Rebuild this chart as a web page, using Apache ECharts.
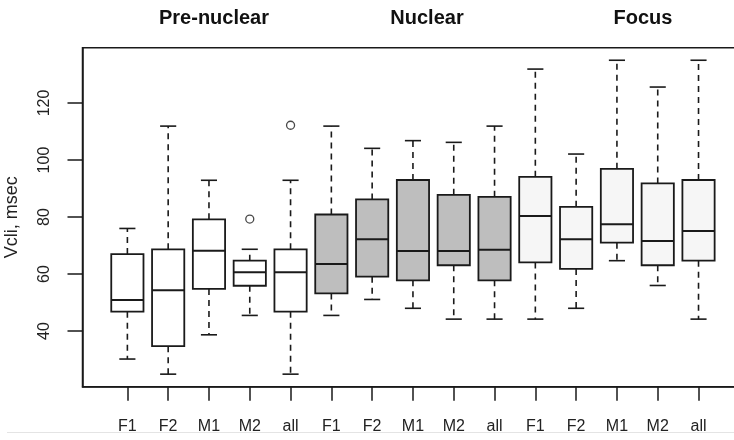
<!DOCTYPE html>
<html>
<head>
<meta charset="utf-8">
<script src="https://cdn.jsdelivr.net/npm/echarts@6/dist/echarts.min.js"></script>
<style>
  html, body { margin: 0; padding: 0; background: #fff; }
  #container { width: 734px; height: 440px; }
</style>
</head>
<body>
<div id="container"></div>
<script>
// data
var categories = ['F1', 'F2', 'M1', 'M2', 'all',
                  'F1', 'F2', 'M1', 'M2', 'all',
                  'F1', 'F2', 'M1', 'M2', 'all'];
var groupNames = ['Pre-nuclear', 'Nuclear', 'Focus'];
var lowWhisker = [30.2, 24.9, 38.7, 45.5, 24.9, 45.5, 51.1, 48.0, 44.2, 44.2, 44.2, 48.0, 64.7, 56.0, 44.2];
var lowerQuart = [46.8, 34.7, 54.8, 55.9, 46.8, 53.2, 59.1, 57.8, 63.1, 57.8, 64.1, 61.8, 71.0, 63.1, 64.7];
var medians    = [50.9, 54.3, 68.2, 60.6, 60.6, 63.5, 72.2, 68.1, 68.1, 68.5, 80.4, 72.2, 77.5, 71.6, 75.1];
var upperQuart = [67.0, 68.7, 79.2, 64.7, 68.7, 80.9, 86.2, 93.0, 87.8, 87.1, 94.1, 83.6, 96.9, 91.8, 93.0];
var highWhisker = [76.0, 111.9, 92.9, 68.7, 92.9, 111.9, 104.1, 106.8, 106.2, 111.9, 131.9, 102.1, 135.0, 125.6, 135.0];
var outliers = [[3, 79.3], [4, 112.2]];
var yTicks = [40, 60, 80, 100, 120];

var groupFill = ['#ffffff', '#bebebe', '#f6f6f6'];
// where the group headings sit (px)
var groupTitleX = [214, 427, 643];

var boxData = categories.map(function (c, i) {
    return [i, lowWhisker[i], lowerQuart[i], medians[i], upperQuart[i], highWhisker[i]];
});

function renderBox(params, api) {
    var x = api.value(0);
    var pMin = api.coord([x, api.value(1)]);
    var pQ1 = api.coord([x, api.value(2)]);
    var pMed = api.coord([x, api.value(3)]);
    var pQ3 = api.coord([x, api.value(4)]);
    var pMax = api.coord([x, api.value(5)]);
    var bw = api.size([1, 0])[0] * 0.79;
    var cap = bw / 2;
    var cx = pMed[0];
    var fill = groupFill[Math.floor(params.dataIndex / 5)];
    var stroke = '#1a1a1a';
    var dash = { stroke: stroke, lineWidth: 1.6, lineDash: [6, 5] };
    var solid = { stroke: stroke, lineWidth: 1.6 };
    return {
        type: 'group',
        children: [
            { type: 'line', shape: { x1: cx, y1: pQ3[1], x2: cx, y2: pMax[1] }, style: dash },
            { type: 'line', shape: { x1: cx, y1: pQ1[1], x2: cx, y2: pMin[1] }, style: dash },
            { type: 'line', shape: { x1: cx - cap / 2, y1: pMax[1], x2: cx + cap / 2, y2: pMax[1] }, style: solid },
            { type: 'line', shape: { x1: cx - cap / 2, y1: pMin[1], x2: cx + cap / 2, y2: pMin[1] }, style: solid },
            { type: 'rect', shape: { x: cx - bw / 2, y: pQ3[1], width: bw, height: pQ1[1] - pQ3[1] },
              style: { fill: fill, stroke: stroke, lineWidth: 1.8 } },
            { type: 'line', shape: { x1: cx - bw / 2, y1: pMed[1], x2: cx + bw / 2, y2: pMed[1] },
              style: { stroke: stroke, lineWidth: 2 } }
        ]
    };
}

var dom = document.getElementById('container');
var myChart = echarts.init(dom);
var labelFont = 'Liberation Sans, Arial, sans-serif';

var titles = groupNames.map(function (name, i) {
    return {
        type: 'text', x: groupTitleX[i], y: 18,
        style: { text: name, textAlign: 'center', textVerticalAlign: 'middle',
                 font: 'bold 20px Liberation Sans, Arial, sans-serif', fill: '#111' }
    };
});

var option = {
    animation: false,
    backgroundColor: '#fff',
    grid: {
        left: 82.5, right: -9.4, top: 47.7, bottom: 53.3,
        outerBoundsMode: 'none',
        containLabel: false,
        show: true, borderColor: '#1a1a1a', borderWidth: 1.5, backgroundColor: 'transparent'
    },
    xAxis: {
        type: 'value',
        min: -1.1, max: 15.1,
        splitLine: { show: false },
        axisLine: { show: true, onZero: false, lineStyle: { color: '#1a1a1a', width: 1.5 } },
        axisTick: { show: true, length: 14, lineStyle: { color: '#1a1a1a', width: 1.5 },
                    customValues: categories.map(function (c, i) { return i; }) },
        axisLabel: {
            customValues: categories.map(function (c, i) { return i; }),
            formatter: function (v) { return categories[Math.round(v)]; },
            fontSize: 16, color: '#222', margin: 32, fontFamily: labelFont
        }
    },
    yAxis: {
        type: 'value',
        min: 20.5, max: 139.4,
        name: 'Vcli, msec',
        nameLocation: 'middle',
        nameGap: 61,
        nameTextStyle: { fontSize: 18, color: '#222', fontFamily: labelFont },
        splitLine: { show: false },
        axisLine: { show: true, onZero: false, lineStyle: { color: '#1a1a1a', width: 1.5 } },
        axisTick: { show: true, length: 15, lineStyle: { color: '#1a1a1a', width: 1.5 },
                    customValues: yTicks },
        axisLabel: {
            customValues: yTicks,
            rotate: 90,
            fontSize: 16, color: '#222', margin: 30, fontFamily: labelFont
        }
    },
    series: [
        {
            type: 'custom',
            renderItem: renderBox,
            encode: { x: 0, y: [1, 2, 3, 4, 5] },
            data: boxData,
            clip: false
        },
        {
            type: 'scatter',
            data: outliers,
            symbol: 'circle',
            symbolSize: 8,
            itemStyle: { color: '#fff', borderColor: '#1a1a1a', borderWidth: 1.3 }
        }
    ],
    graphic: titles.concat([
        { type: 'rect', shape: { x: 0, y: 432, width: 734, height: 8 }, style: { fill: '#fff' }, z: 100 },
        { type: 'line', shape: { x1: 7, y1: 432.5, x2: 734, y2: 432.5 }, style: { stroke: '#e4e4e4', lineWidth: 1 }, z: 101 }
    ])
};
if (option && typeof option === "object") {
    myChart.setOption(option, true);
}
</script>
</body>
</html>
